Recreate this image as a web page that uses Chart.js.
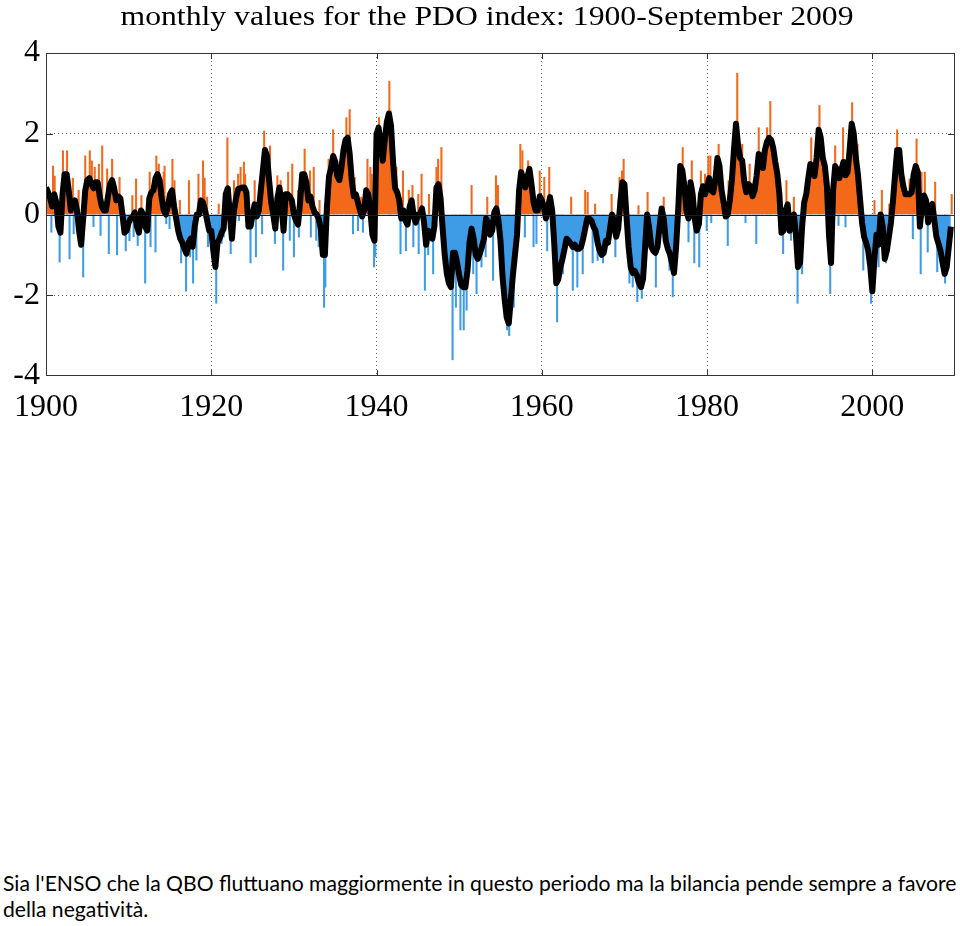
<!DOCTYPE html>
<html>
<head>
<meta charset="utf-8">
<script src="https://cdn.jsdelivr.net/npm/chart.js@4.4.0/dist/chart.umd.min.js"></script>
<style>
  body { margin: 0; background: #fff; width: 960px; height: 926px; position: relative; overflow: hidden; }
  #contenitore { position: absolute; left: 0; top: 0; width: 960px; height: 430px; }
  .nota { position: absolute; left: 3px; white-space: nowrap; font-family: Lato, "Open Sans", sans-serif; color: #000; line-height: 26px; }
</style>
</head>
<body>
<div id="contenitore"><canvas id="grafico"></canvas></div>
<div class="nota" id="riga1" style="top:870px">Sia l'ENSO che la QBO fluttuano maggiormente in questo periodo ma la bilancia pende sempre a favore</div>
<div class="nota" id="riga2" style="top:896px">della negatività.</div>
<script>
// indice PDO: media mobile, un valore ogni trimestre dal 1900
const inizioMedia = 1900;
const passoMedia = 0.25;
const mediaPDO = [
  0.67, 0.55, 0.4, 0.2,     0.5, 0.3, -0.3, -0.45,    0.5, 1.0, 1.0, 0.6,      0.1, 0.25, 0.35, 0.1,
  -0.4, -0.75, -0.1, 0.6,   0.85, 0.9, 0.75, 0.65,    0.8, 0.8, 0.45, 0.2,     0.1, 0.1, 0.45, 0.75,
  0.85, 0.65, 0.35, 0.45,   0.4, 0.0, -0.45, -0.4,
  -0.2, -0.1, -0.05, 0.05,  -0.3, -0.45, 0.1, 0.0,    -0.3, -0.4, 0.4, 0.55,   0.6, 0.9, 1.0, 0.85,
  0.4, 0.1, 0.0, 0.2,       0.5, 0.6, 0.2, -0.1,      -0.4, -0.6, -0.7, -0.85, -0.97, -0.7, -0.6, -0.8,
  -0.3, 0.0, 0.0, 0.35,     0.3, 0.1, -0.15, -0.4,
  -0.4, -0.9, -1.3, -0.7,   -0.6, -0.45, -0.35, 0.5,  0.65, 0.0, -0.6, 0.1,    0.4, 0.63, 0.65, 0.67,
  0.67, 0.55, -0.3, -0.3,   0.0, 0.25, -0.05, 0.1,    0.6, 1.1, 1.6, 1.45,     0.85, 0.3, 0.0, -0.35,
  0.4, 0.67, 0.2, -0.4,     0.5, 0.5, 0.45, 0.35,
  0.0, -0.15, -0.25, 0.3,   1.0, 1.0, 0.8, 0.35,      0.45, 0.2, 0.05, 0.0,    -0.1, -0.35, -1.0, -1.0,
  0.2, 0.95, 1.15, 1.45,    1.3, 0.95, 0.85, 1.15,    1.6, 1.85, 1.9, 1.5,     0.85, 0.45, 0.5, 0.3,
  0.1, -0.05, 0.1, 0.6,     0.5, 0.1, -0.5, -0.65,
  2.0, 2.15, 1.75, 1.33,    1.85, 2.3, 2.5, 2.2,      1.3, 0.65, 0.55, 0.35,   -0.1, 0.1, -0.15, -0.25,
  0.18, 0.35, -0.05, -0.2,  0.0, 0.0, 0.15, -0.2,     -0.75, -0.4, -0.5, -0.6, -0.3, 0.67, 0.75, 0.4,
  -0.35, -1.0, -1.45, -1.7, -1.8, -0.95, -0.95, -1.2,
  -1.5, -1.75, -1.8, -1.8,  -1.4, -0.7, -0.35, -0.6,  -1.0, -1.1, -0.97, -0.8, -0.6, -0.1, -0.2, -0.5,
  -0.4, 0.05, 0.15, -0.15,  -0.65, -1.55, -2.1, -2.55, -2.7, -2.1, -1.5, -1.0, -0.5, 0.6, 1.05, 0.9,
  0.67, 0.92, 1.13, 0.75,   0.3, 0.1, 0.1, 0.45,
  0.35, 0.18, -0.1, 0.18,   0.43, 0.1, -0.7, -1.7,    -1.6, -1.3, -1.1, -0.85, -0.6, -0.65, -0.72, -0.8,
  -0.75, -0.85, -0.85, -0.8, -0.6, -0.35, -0.1, -0.1, -0.15, -0.3, -0.4, -0.7, -0.9, -1.0, -0.95, -0.65,
  -0.7, -0.35, 0.0, -0.2,   -0.55, -0.35, 0.3, 0.8,
  0.75, -0.05, -0.8, -1.3,  -1.45, -1.4, -1.5, -1.7,  -1.8, -1.6, -0.8, 0.0,   -0.35, -0.8, -0.9, -0.95,
  -0.8, -0.3, 0.15, -0.1,   -0.65, -0.85, -0.98, -1.2, -1.45, -0.8, 0.1, 1.2, 1.1, 0.7, 0.1, -0.1,
  0.8, 0.5, -0.1, -0.4,     -0.25, 0.5, 0.7, 0.5,
  0.67, 0.9, 0.6, 0.55,     0.85, 1.4, 1.2, 0.6,      0.3, -0.05, 0.0, 0.35,   0.85, 1.6, 2.25, 1.7,
  1.4, 1.33, 0.8, 0.55,     0.75, 0.7, 0.45, 0.6,     0.97, 1.5, 1.4, 1.15,    1.6, 1.8, 1.9, 1.85,
  1.65, 1.3, 1.0, 0.5,      -0.45, -0.4, 0.1, 0.25,
  -0.4, -0.1, 0.0, -0.5,    -1.3, -1.2, -0.3, 0.3,    0.5, 0.9, 1.25, 1.1,     0.95, 1.4, 2.1, 1.9,
  1.4, 1.2, 0.7, -0.5,      -1.2, 0.6, 1.2, 1.1,      0.9, 1.1, 1.3, 0.97,     1.05, 1.6, 2.25, 2.0,
  1.4, 1.0, 0.4, -0.2,      -0.55, -0.7, -0.9, -1.3,
  -1.9, -1.1, -0.5, -0.75,  0.0, -0.3, -1.1, -0.9,    -0.55, -0.2, 0.35, 1.0,  1.6, 1.6, 1.0, 0.7,
  0.5, 0.5, 0.5, 0.55,      1.0, 1.2, 1.05, -0.3,     0.18, 0.47, 0.35, -0.2,  0.18, 0.26, -0.15, -0.55,
  -0.72, -0.9, -1.2, -1.47, -1.3, -0.8, -0.3
];

// valori mensili che sporgono oltre la media (anno, valore)
const anniPicchi = [
  1900.0, 1900.65, 1900.85, 1901.05, 1901.65, 1902.05, 1902.55, 1902.85, 1903.25, 1903.35, 1903.95, 1904.5, 1904.75,
  1905.3, 1905.55, 1905.75, 1905.9, 1906.4, 1906.6, 1906.8, 1907.4, 1907.6, 1908.0, 1908.6, 1908.9, 1909.65,
  1910.1, 1910.45, 1910.6, 1910.9, 1911.1, 1911.55, 1912.0, 1912.55, 1912.65, 1913.25, 1913.35, 1913.65, 1914.25,
  1914.35, 1914.55, 1914.95, 1915.3, 1915.55, 1916.2, 1916.35, 1916.95, 1917.3, 1917.45, 1917.8, 1918.2, 1918.45,
  1919.0, 1919.2, 1919.5, 1919.6,
  1920.6, 1920.9, 1921.25, 1921.5, 1921.95, 1922.25, 1922.35, 1922.65, 1922.75, 1923.25, 1923.35, 1923.55, 1923.95,
  1924.1, 1924.75, 1925.25, 1925.4, 1925.85, 1926.15, 1926.4, 1927.1, 1927.7, 1928.0, 1928.4, 1928.7, 1929.3,
  1929.5, 1929.8,
  1930.0, 1930.5, 1930.6, 1931.3, 1931.95, 1932.05, 1932.4, 1932.7, 1933.0, 1933.1, 1933.65, 1933.8, 1934.2,
  1934.75, 1935.25, 1935.75, 1936.35, 1936.75, 1937.15, 1937.35, 1937.75, 1938.15, 1938.35, 1938.9, 1939.25,
  1939.4, 1939.7, 1939.85,
  1940.3, 1941.55, 1941.7, 1942.4, 1942.9, 1943.2, 1943.55, 1943.9, 1944.35, 1944.45, 1945.05, 1945.1, 1945.45,
  1945.85, 1946.25, 1946.35, 1946.85, 1947.25, 1947.45, 1947.85, 1949.2, 1949.6,
  1950.15, 1950.55, 1950.9, 1951.5, 1951.7, 1952.1, 1952.7, 1953.2, 1953.4, 1954.1, 1954.45, 1954.7, 1955.1,
  1955.8, 1956.05, 1956.6, 1957.4, 1957.65, 1957.95, 1958.35, 1958.95, 1959.0, 1959.35, 1959.75,
  1960.3, 1960.65, 1960.9, 1961.85, 1962.15, 1962.55, 1963.55, 1963.75, 1964.3, 1964.95, 1965.25, 1965.55,
  1966.15, 1966.45, 1966.75, 1967.4, 1968.45, 1968.9, 1969.4, 1969.7, 1969.9,
  1970.6, 1971.0, 1971.55, 1971.7, 1972.1, 1972.6, 1972.8, 1973.8, 1974.75, 1975.45, 1975.85, 1977.05, 1977.75,
  1978.15, 1978.45, 1979.05, 1979.25, 1979.75, 1979.95,
  1980.15, 1980.4, 1980.5, 1981.4, 1982.5, 1982.6, 1983.65, 1984.25, 1984.65, 1985.15, 1985.65, 1985.95,
  1986.25, 1986.65, 1987.25, 1987.65, 1989.2, 1989.6,
  1990.15, 1990.5, 1990.95, 1991.5, 1992.6, 1993.6, 1994.9, 1995.5, 1995.9, 1996.45, 1996.75, 1997.55,
  1998.2, 1998.9, 1999.85,
  2000.25, 2000.75, 2001.15, 2001.65, 2002.05, 2003.0, 2003.55, 2004.5, 2004.9, 2005.35, 2005.85, 2005.95,
  2006.35, 2006.7, 2007.6, 2007.85, 2008.8, 2009.6
];
const valoriPicchi = [
  1.33, -0.44, 1.2, 0.95, -1.18, 1.58, 1.58, -1.1, 0.9, -0.48, 0.6, -1.55, 1.45,
  1.58, 1.33, -0.3, 1.17, 1.25, -0.52, 1.7, 1.13, -0.97, 1.37, -1.0, 0.92, -0.9,
  -0.65, 0.47, -0.55, 0.88, -0.77, 0.47, -1.7, 1.05, -0.8, -0.93, 1.45, 1.25, 1.05,
  1.2, -0.23, -0.35, 1.37, 0.84, 0.35, -1.2, -1.9, 0.84, -1.05, -1.7, -1.13, 1.0,
  1.33, 0.9, 0.43, -0.8,
  -2.2, 0.26, -0.72, -0.56, 1.9, 0.6, -0.97, -0.56, 0.84, 1.0, -0.15, 1.17, 1.3,
  1.0, -1.2, 0.84, -1.05, 0.75, -0.48, 2.07, 1.7, -0.72, 0.96, 0.84, -1.38, 1.05,
  -0.64, 1.25,
  -1.05, 0.6, -0.56, 1.62, 1.08, -0.56, 1.17, -0.64, -0.8, 0.35, -2.3, -1.8, 1.37,
  2.1, 1.33, 1.33, 2.4, 2.6, -0.48, 0.92, -0.4, 0.43, -0.44, 1.37, 1.17,
  1.0, -1.3, -1.05,
  2.4, 3.3, 2.57, 1.17, -0.97, 1.08, -0.9, 0.6, 0.72, -0.8, 0.5, -0.97, 1.0,
  -1.88, -1.0, 0.5, -1.47, 1.17, 1.37, 1.66, -3.6, -2.3,
  -2.86, -2.86, -2.37, 0.72, -1.47, -1.96, -1.3, -1.05, 0.43, -1.63, 0.96, 0.72, -1.63,
  -2.86, -3.0, -2.3, 1.74, 1.58, -0.56, 1.33, 0.67, -0.8, -0.72, 1.08,
  0.92, -0.9, 1.17, -2.66, -1.55, -1.47, 0.43, -1.88, -1.8, -1.47, 0.6, 0.55,
  -1.2, 0.26, -1.14, -1.2, 0.5, -1.05, 0.92, 1.08, 1.37,
  -1.7, -1.8, -2.16, 0.22, -2.08, -1.3, 0.55, -1.8, 0.43, -1.38, -2.04, 1.66, -0.68,
  1.33, -1.2, -1.3, 1.08, 1.0, -0.4,
  1.45, 1.45, -0.2, 1.74, -0.77, 0.84, 3.5, 1.74, -0.2, 1.25, 0.84, -0.72,
  2.15, 1.0, 2.15, 2.8, -0.97, 0.84,
  -0.64, 0.43, -2.2, -1.47, 1.9, 2.7, -1.96, 1.7, -0.27, 2.15, -0.31, 2.77,
  1.74, -1.38, -2.2,
  0.35, -1.3, 0.6, -1.2, 0.26, 2.1, 1.08, 0.88, -0.6, 1.87, -1.47, 1.05,
  1.05, -0.93, 0.8, -1.42, -1.7, 0.5
];

const valoriX = [1900, 1920, 1940, 1960, 1980, 2000];
const etichetteX = ['1900', '1920', '1940', '1960', '1980', '2000'];
const valoriY = [-4, -2, 0, 2, 4];
const etichetteY = ['-4', '-2', '0', '2', '4'];
const titolo = 'monthly values for the PDO index: 1900-September 2009';

const ARANCIO = '#f4681a';
const AZZURRO = '#3e9ce6';
const serif = '"Liberation Serif", "Times New Roman", serif';

const media = mediaPDO.map((v, i) => ({ x: inizioMedia + i * passoMedia, y: v }));
const picchi = anniPicchi.map((a, i) => ({ x: a, y: valoriPicchi[i] }));

// cornice, linea dello zero, tacche e titolo
const cornice = {
  id: 'cornice',
  afterDatasetsDraw(chart) {
    const { ctx, chartArea: a, scales: { x, y } } = chart;
    ctx.save();
    const y0 = Math.round(y.getPixelForValue(0)) + 0.5;
    ctx.strokeStyle = '#1a1a1a';
    ctx.lineWidth = 1;
    ctx.beginPath();
    ctx.moveTo(a.left, y0);
    ctx.lineTo(a.right, y0);
    ctx.stroke();

    ctx.strokeStyle = '#333';
    ctx.beginPath();
    x.ticks.forEach(t => {
      if (t.value <= x.min) return;
      const px = Math.round(x.getPixelForValue(t.value)) + 0.5;
      ctx.moveTo(px, a.top); ctx.lineTo(px, a.top + 6);
      ctx.moveTo(px, a.bottom); ctx.lineTo(px, a.bottom - 6);
    });
    y.ticks.forEach(t => {
      if (t.value <= y.min || t.value >= y.max) return;
      const py = Math.round(y.getPixelForValue(t.value)) + 0.5;
      ctx.moveTo(a.left, py); ctx.lineTo(a.left + 7, py);
      ctx.moveTo(a.right, py); ctx.lineTo(a.right - 7, py);
    });
    ctx.stroke();
    ctx.strokeRect(a.left + 0.5, a.top + 0.5, a.right - a.left - 1, a.bottom - a.top - 1);
    ctx.restore();
  },
  afterDraw(chart) {
    // il titolo originale e' leggermente allargato in orizzontale
    const ctx = chart.ctx;
    ctx.save();
    ctx.fillStyle = '#000';
    ctx.font = '28px ' + serif;
    ctx.textAlign = 'center';
    ctx.textBaseline = 'alphabetic';
    const w = ctx.measureText(titolo).width;
    ctx.translate(487, 25);
    ctx.scale(733 / w, 1);
    ctx.fillText(titolo, 0, 0);
    ctx.restore();
  }
};

const ctx = document.getElementById('grafico');
new Chart(ctx, {
  type: 'bar',
  data: {
    datasets: [
      {
        type: 'line',
        data: media,
        borderColor: '#000',
        borderWidth: 6,
        borderJoinStyle: 'round',
        pointRadius: 0,
        tension: 0,
        fill: { target: 'origin', above: ARANCIO, below: AZZURRO },
        order: 1
      },
      {
        type: 'bar',
        data: picchi,
        backgroundColor: c => (c.raw && c.raw.y < 0) ? AZZURRO : ARANCIO,
        borderWidth: 0,
        barThickness: 1.4,
        order: 2
      }
    ]
  },
  options: {
    responsive: true,
    maintainAspectRatio: false,
    animation: false,
    devicePixelRatio: 1,
    layout: { padding: { top: 53, right: 5, left: 0, bottom: 0 } },
    plugins: { legend: { display: false }, tooltip: { enabled: false }, title: { display: false } },
    scales: {
      x: {
        type: 'linear',
        min: 1900,
        max: 2010,
        offset: false,
        afterBuildTicks: s => { s.ticks = valoriX.map(v => ({ value: v })); },
        afterFit: s => { s.height = 54; },
        ticks: {
          autoSkip: false,
          maxRotation: 0,
          padding: 12,
          color: '#000',
          font: { family: serif, size: 32 },
          callback: (v, i) => etichetteX[i]
        },
        grid: {
          offset: false,
          drawTicks: false,
          lineWidth: 1,
          color: c => (c.tick && c.tick.value > 1900) ? '#666' : 'rgba(0,0,0,0)'
        },
        border: { display: false, dash: [1, 3] }
      },
      y: {
        min: -4,
        max: 4,
        afterBuildTicks: s => { s.ticks = valoriY.map(v => ({ value: v })); },
        afterFit: s => { s.width = 46; },
        ticks: {
          padding: 6,
          color: '#000',
          font: { family: serif, size: 32 },
          callback: (v, i) => etichetteY[i]
        },
        grid: {
          drawTicks: false,
          lineWidth: 1,
          color: c => (c.tick && (c.tick.value === 2 || c.tick.value === -2)) ? '#666' : 'rgba(0,0,0,0)'
        },
        border: { display: false, dash: [1, 3] }
      }
    }
  },
  plugins: [cornice]
});

// testo sotto il grafico, adattato alla larghezza della riga
const misura = document.createElement('canvas').getContext('2d');
misura.font = '20px Lato';
const larghezza = misura.measureText(document.getElementById('riga1').textContent).width;
const corpo = 20 * 954 / larghezza;
document.getElementById('riga1').style.fontSize = corpo + 'px';
document.getElementById('riga2').style.fontSize = corpo + 'px';
</script>
</body>
</html>
